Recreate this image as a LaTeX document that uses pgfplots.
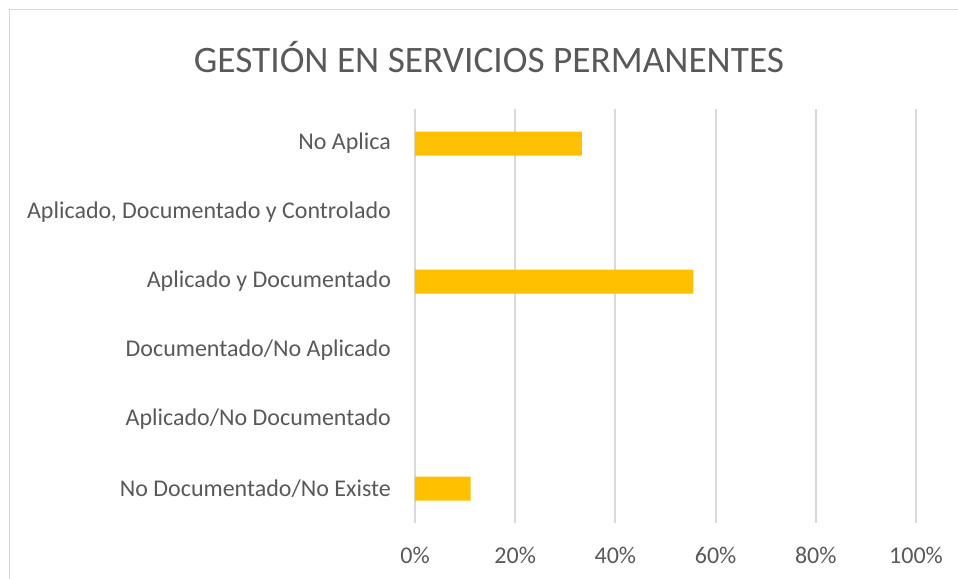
\documentclass[border=0pt]{standalone}
\usepackage{pgfplots}
\pgfplotsset{compat=1.18}
\usepackage{fontspec}
\setmainfont{Carlito}
\definecolor{bar}{HTML}{FFC000}
\definecolor{txt}{HTML}{595959}
\definecolor{grid}{HTML}{D9D9D9}
\begin{document}
\begin{tikzpicture}
\useasboundingbox (0pt,0pt) rectangle (718.5pt,434.25pt);
\draw[grid, line width=0.75pt] (6.75pt,0pt) -- (6.75pt,426.75pt) -- (718.5pt,426.75pt);
\node[txt, font=\fontsize{28}{32}\selectfont] at (366.75pt,391.5pt) {GESTIÓN EN SERVICIOS PERMANENTES};
\begin{axis}[
  at={(311.25pt,42pt)}, anchor=south west,
  scale only axis, width=375.75pt, height=310.5pt,
  xbar, bar width=18pt,
  xmin=0, xmax=1, ymin=-0.5, ymax=5.5,
  xtick={0,0.2,0.4,0.6,0.8,1},
  xticklabels={0\%,20\%,40\%,60\%,80\%,100\%},
  ytick={0,1,2,3,4,5},
  yticklabels={No Documentado/No Existe, Aplicado/No Documentado, Documentado/No Aplicado, Aplicado y Documentado, {Aplicado, Documentado y Controlado}, No Aplica},
  xmajorgrids=true, ymajorgrids=false,
  grid style={draw=grid, line width=1.5pt},
  major grid style={draw=grid, line width=1.5pt},
  axis line style={draw=none},
  tick style={draw=none},
  major tick length=0pt,
  ticklabel style={txt, font=\fontsize{18}{21}\selectfont},
  yticklabel style={xshift=-14.5pt},
  xticklabel style={yshift=-14.5pt},
  /pgf/number format/assume math mode=true,
  clip=false,
]
\addplot[fill=bar, draw=none] coordinates {(0.1111,0) (0.5556,3) (0.3333,5)};
\end{axis}
\end{tikzpicture}
\end{document}
